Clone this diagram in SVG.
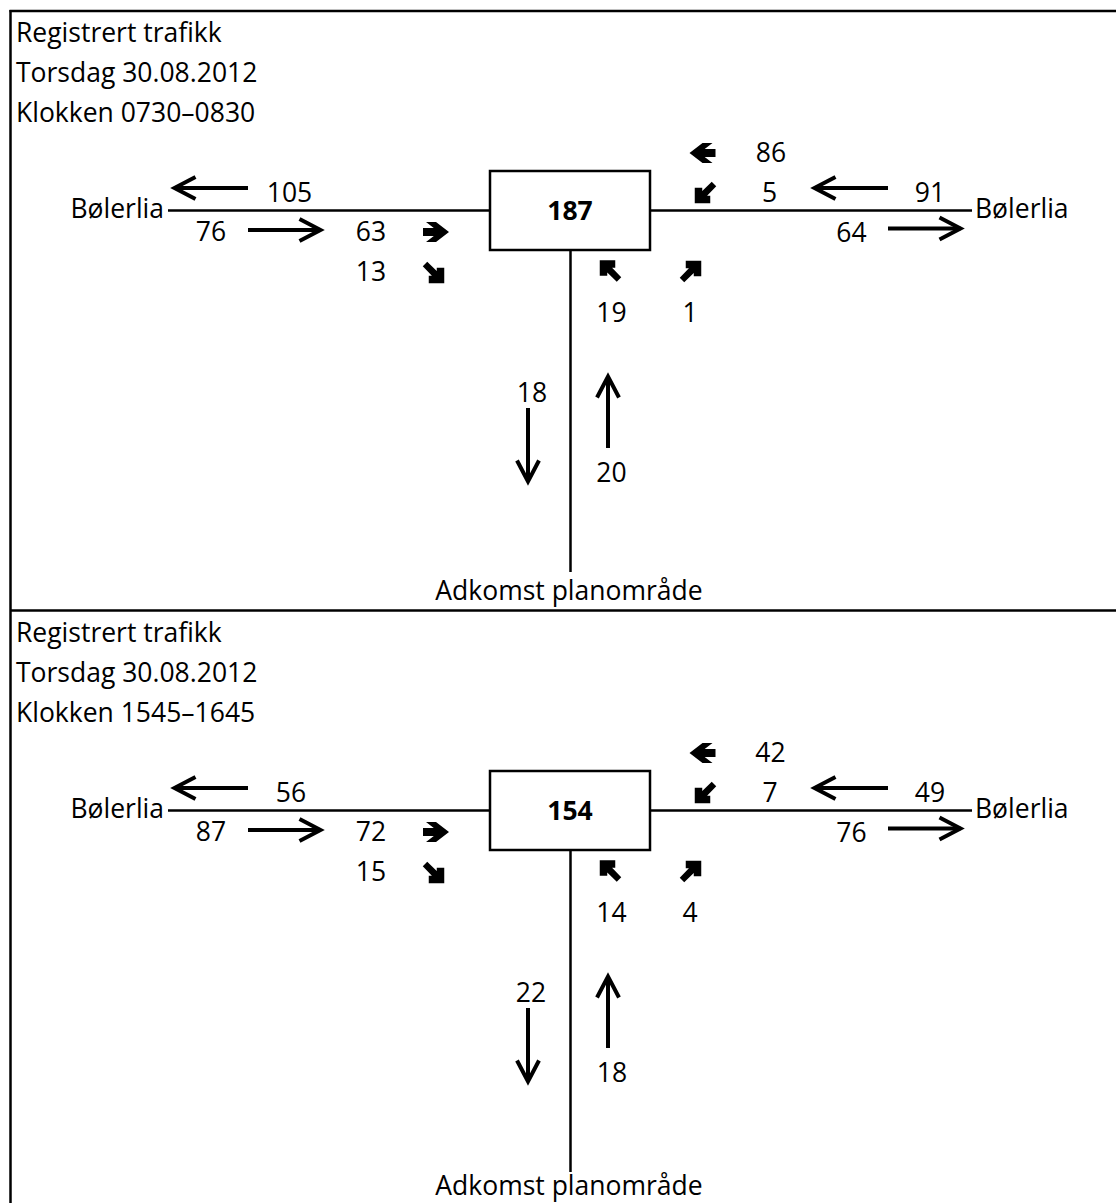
<svg xmlns="http://www.w3.org/2000/svg" width="1116" height="1203" viewBox="0 0 1116 1203">
<style>
  text { font-family: "Open Sans", "Noto Sans", "Liberation Sans", sans-serif; font-size: 26.5px; fill: #000; }
  .m { text-anchor: middle; }
  .e { text-anchor: end; }
  .b { font-weight: bold; }
  .frame { stroke: #000; stroke-width: 2.5; fill: none; }
  .road { stroke: #000; stroke-width: 2.5; fill: none; }
  .box { stroke: #000; stroke-width: 2.5; fill: #fff; }
  .flow { stroke: #000; stroke-width: 4; fill: none; marker-end: url(#ah); }
  .ba { fill: #000; }
</style>
<defs>
  <marker id="ah" markerUnits="userSpaceOnUse" viewBox="-26 -15 34 30" refX="0" refY="0" markerWidth="34" markerHeight="30" orient="auto" overflow="visible">
    <path d="M-21,-11 L0,0 L-21,11" fill="none" stroke="#000" stroke-width="4"/>
  </marker>
  <path id="bh" d="M-13,-4 L-2.2,-4 L-10,-10 L0,-10 L13,0 L0,10 L-10,10 L-2.2,4 L-13,4 Z"/>
  <path id="bd" d="M10.75,10.75 L-4.75,10.75 L-4.75,3.25 L-1.6,3.25 L-10.75,-6.25 L-6.25,-10.75 L3.25,-1.6 L3.25,-4.75 L10.75,-4.75 Z"/>
</defs>

<g id="frame">
  <line class="frame" x1="9.5" y1="11" x2="1116" y2="11"/>
  <line class="frame" x1="10.5" y1="10" x2="10.5" y2="1203"/>
  <line class="frame" x1="10" y1="610.5" x2="1116" y2="610.5"/>
</g>

<!-- Morning panel -->
<g id="panel-am">
  <g id="connectors-am">
    <line class="road" x1="168" y1="210.5" x2="490" y2="210.5"/>
    <line class="road" x1="650" y1="210.5" x2="972" y2="210.5"/>
    <line class="road" x1="570.5" y1="250" x2="570.5" y2="572"/>
    <line class="flow" x1="248" y1="188" x2="174.5" y2="188"/>
    <line class="flow" x1="248" y1="230" x2="320.5" y2="230"/>
    <line class="flow" x1="888" y1="188" x2="814.5" y2="188"/>
    <line class="flow" x1="888" y1="228.5" x2="960.5" y2="228.5"/>
    <line class="flow" x1="528" y1="408" x2="528" y2="481.5"/>
    <line class="flow" x1="608" y1="448" x2="608" y2="376.5"/>
    <use class="ba" href="#bh" transform="translate(436,232)"/>
    <use class="ba" href="#bd" transform="translate(433.5,272.5)"/>
    <use class="ba" href="#bh" transform="translate(702.5,153) rotate(180)"/>
    <use class="ba" href="#bd" transform="translate(705.5,192.5) rotate(90)"/>
    <use class="ba" href="#bd" transform="translate(610.5,271) rotate(180)"/>
    <use class="ba" href="#bd" transform="translate(690.5,271.5) rotate(-90)"/>
  </g>
  <g id="title-am">
    <text x="16" y="42">Registrert trafikk</text>
    <text x="16" y="82">Torsdag 30.08.2012</text>
    <text x="16" y="122">Klokken 0730–0830</text>
  </g>
  <g id="node-junction-am">
    <rect class="box" x="490" y="171" width="160" height="79"/>
    <text class="m b" x="570" y="220">187</text>
  </g>
  <g id="node-west-am"><text class="e" x="164" y="218">Bølerlia</text></g>
  <g id="node-east-am"><text x="975" y="218">Bølerlia</text></g>
  <g id="node-south-am"><text class="m" x="569" y="600">Adkomst planområde</text></g>
  <g id="labels-am">
    <text class="m" x="289.5" y="202">105</text>
    <text class="m" x="211" y="241">76</text>
    <text class="m" x="371" y="241">63</text>
    <text class="m" x="371" y="281">13</text>
    <text class="m" x="771" y="162">86</text>
    <text class="m" x="769.5" y="202">5</text>
    <text class="m" x="930" y="202">91</text>
    <text class="m" x="851.5" y="242">64</text>
    <text class="m" x="611.5" y="322">19</text>
    <text class="m" x="690" y="322">1</text>
    <text class="m" x="532" y="402">18</text>
    <text class="m" x="611.5" y="482">20</text>
  </g>
</g>

<!-- Afternoon panel -->
<g id="panel-pm" transform="translate(0,600)">
  <g id="connectors-pm">
    <line class="road" x1="168" y1="210.5" x2="490" y2="210.5"/>
    <line class="road" x1="650" y1="210.5" x2="972" y2="210.5"/>
    <line class="road" x1="570.5" y1="250" x2="570.5" y2="572"/>
    <line class="flow" x1="248" y1="188" x2="174.5" y2="188"/>
    <line class="flow" x1="248" y1="230" x2="320.5" y2="230"/>
    <line class="flow" x1="888" y1="188" x2="814.5" y2="188"/>
    <line class="flow" x1="888" y1="228.5" x2="960.5" y2="228.5"/>
    <line class="flow" x1="528" y1="408" x2="528" y2="481.5"/>
    <line class="flow" x1="608" y1="448" x2="608" y2="376.5"/>
    <use class="ba" href="#bh" transform="translate(436,232)"/>
    <use class="ba" href="#bd" transform="translate(433.5,272.5)"/>
    <use class="ba" href="#bh" transform="translate(702.5,153) rotate(180)"/>
    <use class="ba" href="#bd" transform="translate(705.5,192.5) rotate(90)"/>
    <use class="ba" href="#bd" transform="translate(610.5,271) rotate(180)"/>
    <use class="ba" href="#bd" transform="translate(690.5,271.5) rotate(-90)"/>
  </g>
  <g id="title-pm">
    <text x="16" y="42">Registrert trafikk</text>
    <text x="16" y="82">Torsdag 30.08.2012</text>
    <text x="16" y="122">Klokken 1545–1645</text>
  </g>
  <g id="node-junction-pm">
    <rect class="box" x="490" y="171" width="160" height="79"/>
    <text class="m b" x="570" y="220">154</text>
  </g>
  <g id="node-west-pm"><text class="e" x="164" y="218">Bølerlia</text></g>
  <g id="node-east-pm"><text x="975" y="218">Bølerlia</text></g>
  <g id="node-south-pm"><text class="m" x="569" y="595">Adkomst planområde</text></g>
  <g id="labels-pm">
    <text class="m" x="291" y="202">56</text>
    <text class="m" x="211" y="241">87</text>
    <text class="m" x="371" y="241">72</text>
    <text class="m" x="371" y="281">15</text>
    <text class="m" x="770.5" y="162">42</text>
    <text class="m" x="770" y="202">7</text>
    <text class="m" x="930" y="202">49</text>
    <text class="m" x="851.5" y="242">76</text>
    <text class="m" x="611.5" y="322">14</text>
    <text class="m" x="690" y="322">4</text>
    <text class="m" x="531" y="402">22</text>
    <text class="m" x="612" y="482">18</text>
  </g>
</g>
</svg>
